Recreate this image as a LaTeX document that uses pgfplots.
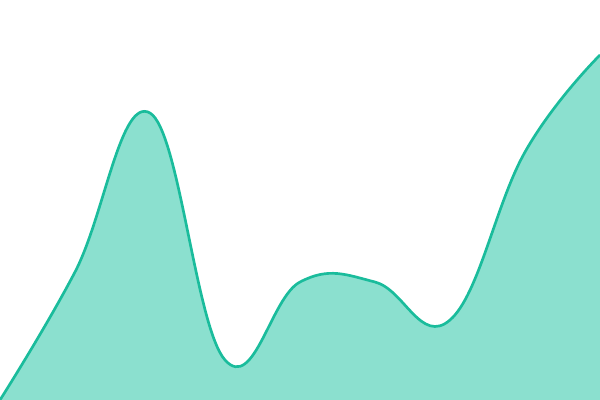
\documentclass[border=0pt]{standalone}
\usepackage{pgfplots}
\pgfplotsset{compat=1.18}
\definecolor{lineteal}{HTML}{1ABC9C}
\definecolor{fillteal}{HTML}{8BE0CF}
\begin{document}
\begin{tikzpicture}
\begin{axis}[
    width=15cm, height=10cm,
    scale only axis,
    hide axis,
    xmin=0, xmax=8,
    ymin=0, ymax=400,
    clip=true,
]
\addplot[fill=fillteal, draw=none, smooth, tension=0.7]
coordinates {
    (0,0)(1,128)(2,287)(3,40)(4,118)(5,118)(6,80)(7,248)(8,345)
} \closedcycle;
\addplot[color=lineteal, line width=1.9pt, smooth, tension=0.7]
coordinates {
    (0,0)(1,128)(2,287)(3,40)(4,118)(5,118)(6,80)(7,248)(8,345)
};
\end{axis}
\path (current axis.south west) rectangle (current axis.north east);
\end{tikzpicture}
\end{document}
